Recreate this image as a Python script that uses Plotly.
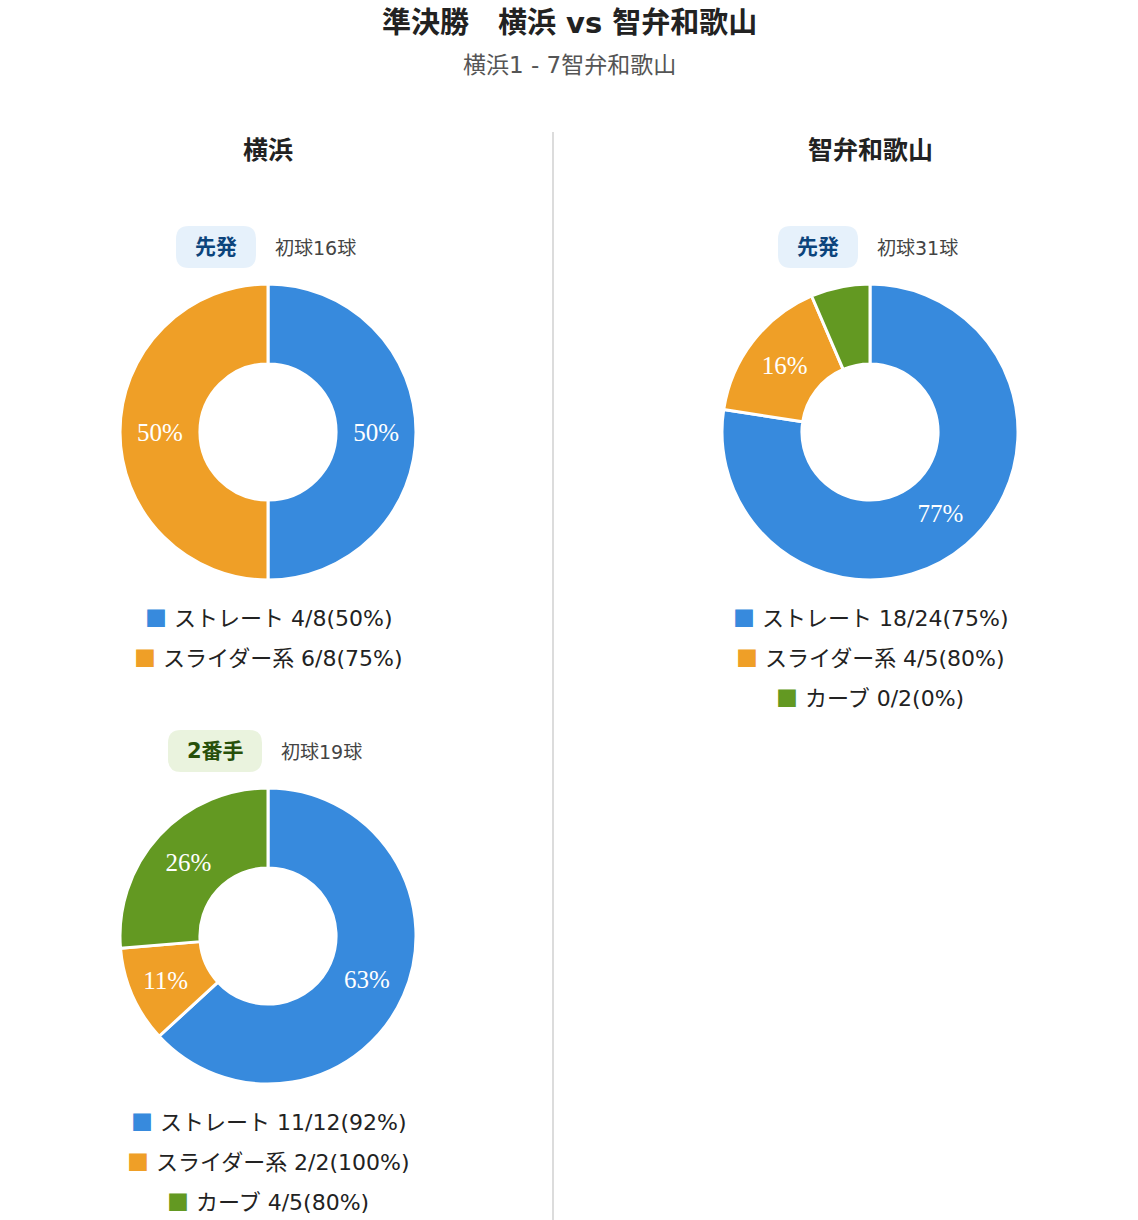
import plotly.graph_objects as go

W, H = 1138, 1220

# データ
pitch_types = ["ストレート", "スライダー系", "カーブ"]
pitch_colors = ["#378ADD", "#EF9F27", "#639922"]

team_names = ["横浜", "智弁和歌山"]
score_text = "横浜1 - 7智弁和歌山"

# 横浜 先発
yoko_start_strikes = [4, 6]
yoko_start_pitches = [8, 8]
yoko_start_first = 16
# 横浜 2番手
yoko_relief_strikes = [11, 2, 4]
yoko_relief_pitches = [12, 2, 5]
yoko_relief_first = 19
# 智弁和歌山 先発
chiben_start_strikes = [18, 4, 0]
chiben_start_pitches = [24, 5, 2]
chiben_start_first = 31


def px(x):
    return x / W


def py(y):
    return 1 - y / H


def rounded_rect(x0, y0, x1, y1, r):
    # ピクセル座標 -> paper座標の角丸パス
    rx, ry = r / W, r / H
    X0, X1 = px(x0), px(x1)
    Y0, Y1 = py(y0), py(y1)  # Y0 が上
    return (f"M {X0+rx},{Y0} L {X1-rx},{Y0} Q {X1},{Y0} {X1},{Y0-ry} "
            f"L {X1},{Y1+ry} Q {X1},{Y1} {X1-rx},{Y1} L {X0+rx},{Y1} "
            f"Q {X0},{Y1} {X0},{Y1+ry} L {X0},{Y0-ry} Q {X0},{Y0} {X0+rx},{Y0} Z")


fig = go.Figure()
annotations = []
shapes = []

FONT = "DejaVu Sans, Noto Sans CJK JP, sans-serif"
CJK = "Noto Sans CJK JP"


def text_at(x, y, text, size, color, anchor="center", family=FONT):
    annotations.append(dict(x=px(x), y=py(y), xref="paper", yref="paper",
                            xanchor=anchor, yanchor="middle", text=text,
                            showarrow=False,
                            font=dict(family=family, size=size, color=color)))


def add_pitcher(cx, cy, strikes, pitches, badge, badge_bg, badge_fg, badge_w, first):
    r = 148
    n = len(pitches)
    total = sum(pitches)
    tmpl = ["%{percent:.0%}" if p / total >= 0.1 else "" for p in pitches]
    fig.add_trace(go.Pie(
        labels=pitch_types[:n],
        values=pitches,
        marker=dict(colors=pitch_colors[:n], line=dict(color="white", width=3)),
        hole=0.46,
        sort=False,
        direction="clockwise",
        rotation=0,
        texttemplate=tmpl,
        textposition="inside",
        insidetextorientation="horizontal",
        insidetextfont=dict(family="Liberation Serif, DejaVu Serif, serif", size=25, color="white"),
        domain=dict(x=[px(cx - r), px(cx + r)], y=[py(cy + r), py(cy - r)]),
        showlegend=False,
        hoverinfo="label+value+percent",
    ))
    # バッジ
    by = cy - 185
    bx0 = cx - 92 if badge_w == 80 else cx - 100
    shapes.append(dict(type="path", xref="paper", yref="paper",
                       path=rounded_rect(bx0, by - 21, bx0 + badge_w, by + 21, 13),
                       fillcolor=badge_bg, line=dict(width=0), layer="below"))
    text_at(bx0 + badge_w / 2, by, f"<b>{badge}</b>", 21, badge_fg)
    text_at(bx0 + badge_w + 17, by + 1, f"初球{first}球", 19, "#444444", anchor="left")
    # 凡例
    for i in range(n):
        pct = round(strikes[i] / pitches[i] * 100)
        text_at(cx, cy + 184 + 40 * i,
                (f"<span style='color:{pitch_colors[i]};font-family:{CJK};font-size:22px'>■</span> "
                 f"{pitch_types[i]} {strikes[i]}/{pitches[i]}({pct}%)"),
                22, "#222222")


add_pitcher(268, 432, yoko_start_strikes, yoko_start_pitches,
            "先発", "#E6F1FB", "#0C447C", 80, yoko_start_first)
add_pitcher(268, 936, yoko_relief_strikes, yoko_relief_pitches,
            "2番手", "#EAF3DE", "#27500A", 94, yoko_relief_first)
add_pitcher(870, 432, chiben_start_strikes, chiben_start_pitches,
            "先発", "#E6F1FB", "#0C447C", 80, chiben_start_first)

# タイトル
text_at(569, 23, f"<b>準決勝　{team_names[0]} vs {team_names[1]}</b>", 29, "#222222")
text_at(569, 65, score_text, 23, "#555555")
# チーム名
for name, cx in zip(team_names, [268, 870]):
    text_at(cx, 150, f"<b>{name}</b>", 25, "#222222")

# 区切り線
shapes.append(dict(type="line", xref="paper", yref="paper",
                   x0=px(553), x1=px(553), y0=py(132), y1=0,
                   line=dict(color="#DCDCDC", width=2)))

fig.update_layout(
    width=W, height=H,
    margin=dict(l=0, r=0, t=0, b=0),
    paper_bgcolor="white",
    plot_bgcolor="white",
    annotations=annotations,
    shapes=shapes,
    font=dict(family=FONT),
)

# body の既定余白を消してウィンドウ全体に描く
fig.write_html("out.html", config={"displayModeBar": False},
               post_script="document.body.style.margin='0';document.body.style.overflow='hidden';")
